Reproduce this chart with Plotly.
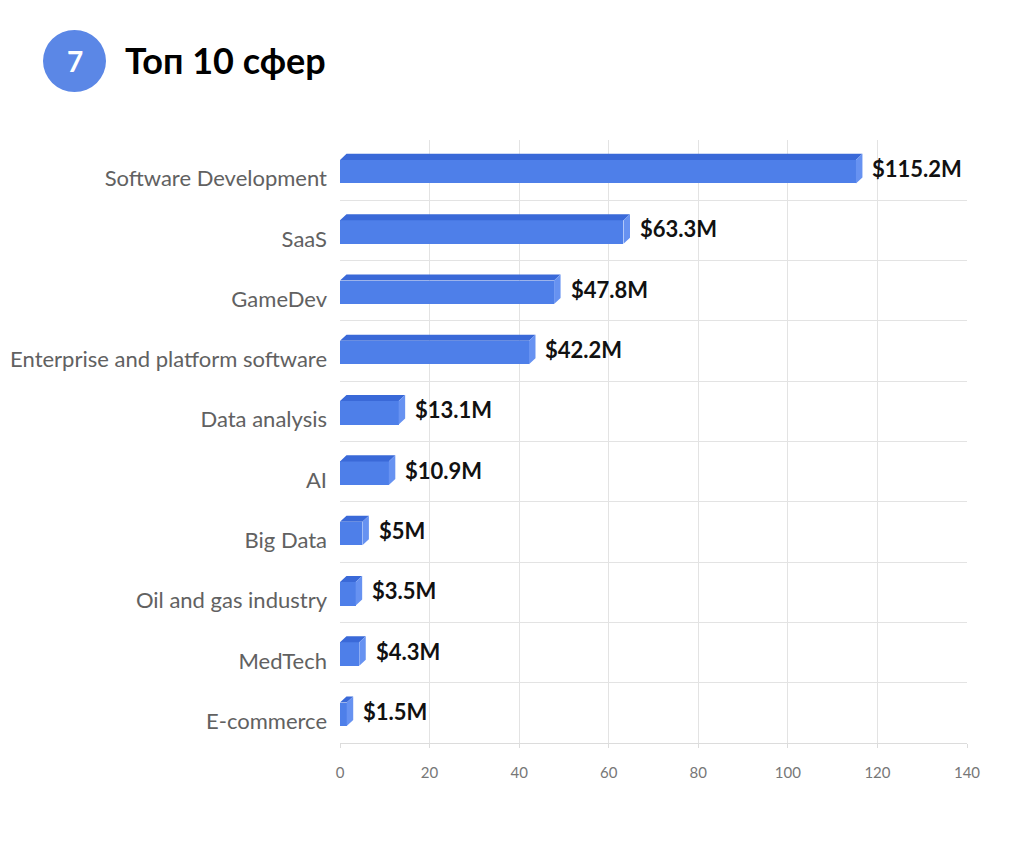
import plotly.graph_objects as go

categories = ["Software Development", "SaaS", "GameDev", "Enterprise and platform software",
              "Data analysis", "AI", "Big Data", "Oil and gas industry", "MedTech", "E-commerce"]
values = [115.2, 63.3, 47.8, 42.2, 13.1, 10.9, 5, 3.5, 4.3, 1.5]
value_labels = ["$115.2M", "$63.3M", "$47.8M", "$42.2M", "$13.1M", "$10.9M", "$5M", "$3.5M", "$4.3M", "$1.5M"]
x_ticks = [0, 20, 40, 60, 80, 100, 120, 140]

FRONT = "#4e7fe9"
TOP = "#3a69d8"
SIDE = "#6792f1"

PAGE_OFF = 8  # default body margin of the html page
W = 1024 - PAGE_OFF
H = 842 - PAGE_OFF
ML, MR, MT, MB = 340 - PAGE_OFF, 57, 140 - PAGE_OFF, 99
pw = W - ML - MR
ph = H - MT - MB

bar_w = 0.39
y_center_off = 0.025
depth_x = 1.45   # data units along x
depth_y = 0.10   # data units along y (category rows)

pos = list(range(len(categories)))
ycent = [p + y_center_off for p in pos]

fig = go.Figure()
fig.add_trace(go.Bar(
    x=values, y=ycent, orientation="h", width=bar_w,
    marker=dict(color=FRONT, line=dict(width=0)),
    hoverinfo="skip", showlegend=False,
))

tx, ty = [], []
sx, sy = [], []
for v, yc in zip(values, ycent):
    yt = yc - bar_w / 2
    yb = yc + bar_w / 2
    tx += [0, v, v + depth_x, depth_x, 0, None]
    ty += [yt, yt, yt - depth_y, yt - depth_y, yt, None]
    sx += [v, v + depth_x, v + depth_x, v, v, None]
    sy += [yt, yt - depth_y, yb - depth_y, yb, yt, None]

fig.add_trace(go.Scatter(x=tx, y=ty, fill="toself", fillcolor=TOP, mode="lines",
                         line=dict(width=0, color=TOP), hoverinfo="skip", showlegend=False))
fig.add_trace(go.Scatter(x=sx, y=sy, fill="toself", fillcolor=SIDE, mode="lines",
                         line=dict(width=0, color=SIDE), hoverinfo="skip", showlegend=False))

for v, yc, lab in zip(values, ycent, value_labels):
    fig.add_annotation(x=v + depth_x, y=yc - depth_y / 2, text=lab, showarrow=False,
                       xanchor="left", yanchor="middle", xshift=8,
                       font=dict(family="Lato", size=22, color="#111111", weight="bold"))

# screen-pixel -> paper helpers
def px_x(p):
    return (p - 340) / pw

def px_y(p):
    return (743 - p) / ph

fig.add_shape(type="circle", xref="paper", yref="paper",
              x0=px_x(43), x1=px_x(106), y0=px_y(92), y1=px_y(30),
              fillcolor="#5b87e6", line=dict(width=0))
fig.add_annotation(xref="paper", yref="paper", x=px_x(74.5), y=px_y(61), text="7",
                   showarrow=False, xanchor="center", yanchor="middle",
                   font=dict(family="Lato", size=28, color="white", weight="bold"))
fig.add_annotation(xref="paper", yref="paper", x=px_x(123), y=px_y(60), text="Топ 10 сфер",
                   showarrow=False, xanchor="left", yanchor="middle",
                   font=dict(family="Lato", size=36, color="#000000", weight="bold"))

fig.update_layout(
    width=W, height=H,
    margin=dict(l=ML, r=MR, t=MT, b=MB, autoexpand=False),
    paper_bgcolor="white", plot_bgcolor="white",
    bargap=0,
    xaxis=dict(range=[0, 140], tickvals=x_ticks, showgrid=True, gridcolor="#e3e3e3", gridwidth=1,
               zeroline=False, showline=True, linecolor="#dcdcdc", linewidth=1,
               ticks="outside", ticklen=4, tickcolor="#dcdcdc",
               ticklabelstandoff=12, automargin=False,
               tickfont=dict(family="Lato", size=15, color="#777777"), fixedrange=True),
    yaxis=dict(range=[len(categories) - 0.5, -0.5], tickvals=[p + 0.14 for p in pos],
               ticktext=categories, showgrid=False, zeroline=False, showline=False,
               ticks="", ticklabelstandoff=12, automargin=False,
               tickfont=dict(family="Lato", size=22, color="#616161"),
               minor=dict(tickvals=[p - 0.5 for p in pos] + [len(pos) - 0.5], showgrid=True,
                          gridcolor="#e3e3e3", gridwidth=1, ticks=""),
               fixedrange=True),
)

fig.write_html("out.html")
